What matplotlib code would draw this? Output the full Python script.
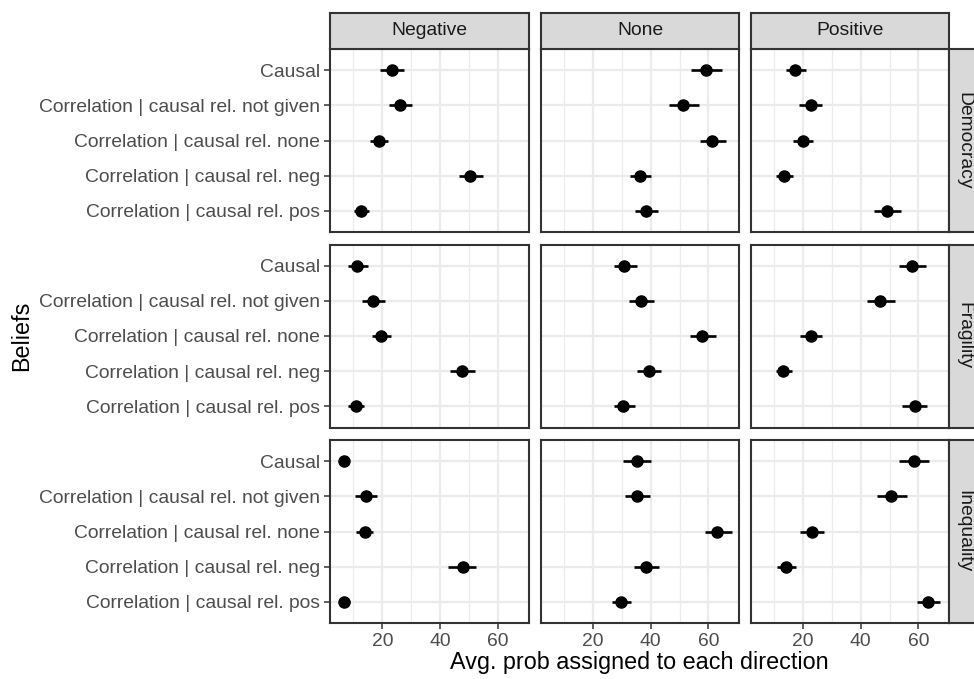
import matplotlib
matplotlib.use("Agg")
import matplotlib.pyplot as plt
from matplotlib.ticker import FixedLocator

plt.rcParams['font.family'] = ['Liberation Sans', 'DejaVu Sans']

# ---- data -------------------------------------------------------------
beliefs = [
    "Causal",
    "Correlation | causal rel. not given",
    "Correlation | causal rel. none",
    "Correlation | causal rel. neg",
    "Correlation | causal rel. pos",
]
directions = ["Negative", "None", "Positive"]
topics = ["Democracy", "Fragility", "Inequality"]

# rows: direction (Negative, None, Positive); columns: beliefs in order above
democracy_mean = [[23.2, 26.1, 18.8, 50.3, 12.7],
                  [59.2, 51.3, 61.4, 36.2, 38.3],
                  [17.3, 22.6, 19.9, 13.2, 49.2]]
democracy_lo = [[19.2, 22.4, 15.9, 46.4, 10.1],
                [54.1, 46.3, 57.0, 32.7, 34.4],
                [14.2, 18.7, 16.4, 10.5, 44.6]]
democracy_hi = [[27.4, 30.2, 22.0, 54.7, 15.5],
                [64.8, 56.6, 66.1, 40.2, 42.6],
                [21.0, 26.6, 23.5, 16.5, 54.0]]

fragility_mean = [[11.4, 16.8, 19.5, 47.5, 10.8],
                  [30.8, 36.5, 57.9, 39.4, 30.5],
                  [57.8, 46.7, 22.6, 13.1, 58.7]]
fragility_lo = [[8.3, 12.9, 16.6, 43.3, 8.3],
                [27.1, 32.3, 53.5, 35.2, 27.1],
                [53.2, 42.1, 19.0, 10.5, 54.4]]
fragility_hi = [[15.0, 21.1, 22.9, 52.0, 13.6],
                [35.1, 41.1, 62.6, 43.6, 34.4],
                [62.6, 51.8, 26.5, 16.1, 63.1]]

inequality_mean = [[6.7, 14.2, 13.9, 47.8, 6.9],
                   [35.1, 35.3, 63.1, 38.2, 29.7],
                   [58.3, 50.6, 23.0, 14.1, 63.4]]
inequality_lo = [[5.3, 10.5, 10.9, 42.9, 5.4],
                 [30.2, 30.9, 58.7, 34.0, 26.4],
                 [53.3, 45.6, 19.0, 11.0, 59.4]]
inequality_hi = [[8.6, 18.1, 16.9, 52.6, 8.8],
                 [40.2, 39.8, 68.1, 42.7, 33.3],
                 [63.5, 56.2, 27.1, 17.5, 67.5]]

x_ticks = [20, 40, 60]
x_minor = [10, 30, 50]
x_title = "Avg. prob assigned to each direction"
y_title = "Beliefs"

table = {
    "Democracy": (democracy_mean, democracy_lo, democracy_hi),
    "Fragility": (fragility_mean, fragility_lo, fragility_hi),
    "Inequality": (inequality_mean, inequality_lo, inequality_hi),
}

# ---- figure layout (pixel based) --------------------------------------
W, H = 974, 679
fig = plt.figure(figsize=(W / 100, H / 100), dpi=100)

def box(x0, y0, x1, y1):
    return [x0 / W, 1 - y1 / H, (x1 - x0) / W, (y1 - y0) / H]

col_x = [(330, 528.5), (541, 739), (751, 949)]
row_y = [(49, 232), (244.5, 427.5), (440, 623)]
strip_top = (13, 48.5)
strip_right = (949, 984)
strip_right_text_x = 964

border = "#333333"
grid_c = "#EBEBEB"
tick_c = "#4D4D4D"
strip_fill = "#D9D9D9"
strip_txt = "#1A1A1A"
fs_tick = 13.9
fs_title = 16.8

y_pos = list(range(len(beliefs)))

for r, topic in enumerate(topics):
    means, los, his = table[topic]
    for c, direc in enumerate(directions):
        ax = fig.add_axes(box(col_x[c][0], row_y[r][0], col_x[c][1], row_y[r][1]))
        ax.set_xlim(1.9, 70.6)
        ax.set_ylim(len(beliefs) - 0.4, -0.6)
        ax.xaxis.set_major_locator(FixedLocator(x_ticks))
        ax.xaxis.set_minor_locator(FixedLocator(x_minor))
        ax.set_yticks(y_pos)
        ax.grid(True, which="major", color=grid_c, linewidth=1.6, zorder=0)
        ax.grid(True, which="minor", axis="x", color=grid_c, linewidth=0.9, zorder=0)
        ax.set_axisbelow(True)
        for s in ax.spines.values():
            s.set_color(border)
            s.set_linewidth(1.5)
        ax.hlines(y_pos, los[c], his[c], color="black", linewidth=1.9, zorder=3)
        ax.plot(means[c], y_pos, "o", color="black", markersize=8.0, zorder=4)
        ax.tick_params(axis="both", which="major", length=4.2, width=1.1,
                       color=border, labelcolor=tick_c, labelsize=fs_tick, pad=3.2)
        ax.tick_params(axis="x", which="minor", length=0)
        if c == 0:
            ax.set_yticklabels(beliefs)
        else:
            ax.tick_params(axis="y", left=False, labelleft=False)
        if r == len(topics) - 1:
            ax.set_xticklabels([str(t) for t in x_ticks])
        else:
            ax.tick_params(axis="x", bottom=False, labelbottom=False)

        # column strip
        if r == 0:
            sax = fig.add_axes(box(col_x[c][0], strip_top[0], col_x[c][1], strip_top[1]))
            sax.set_facecolor(strip_fill)
            sax.set_xticks([]); sax.set_yticks([])
            for s in sax.spines.values():
                s.set_color(border); s.set_linewidth(1.5)
            sax.text(0.5, 0.5, direc, ha="center", va="center", fontsize=fs_tick,
                     color=strip_txt, transform=sax.transAxes)
    # row strip
    rax = fig.add_axes(box(strip_right[0], row_y[r][0], strip_right[1], row_y[r][1]))
    rax.set_facecolor(strip_fill)
    rax.set_xticks([]); rax.set_yticks([])
    for s in rax.spines.values():
        s.set_color(border); s.set_linewidth(1.5)
    fig.text(strip_right_text_x / W, 1 - (row_y[r][0] + row_y[r][1]) / 2 / H, topic,
             ha="center", va="center", rotation=-90,
             fontsize=fs_tick, color=strip_txt)

fig.text((col_x[0][0] + col_x[2][1]) / 2 / W, 1 - 662 / H, x_title,
         ha="center", va="center", fontsize=fs_title, color="black")
fig.text(22 / W, 1 - (row_y[0][0] + row_y[2][1]) / 2 / H, y_title,
         ha="center", va="center", rotation=90, fontsize=fs_title, color="black")

fig.savefig("out.png", dpi=100)
